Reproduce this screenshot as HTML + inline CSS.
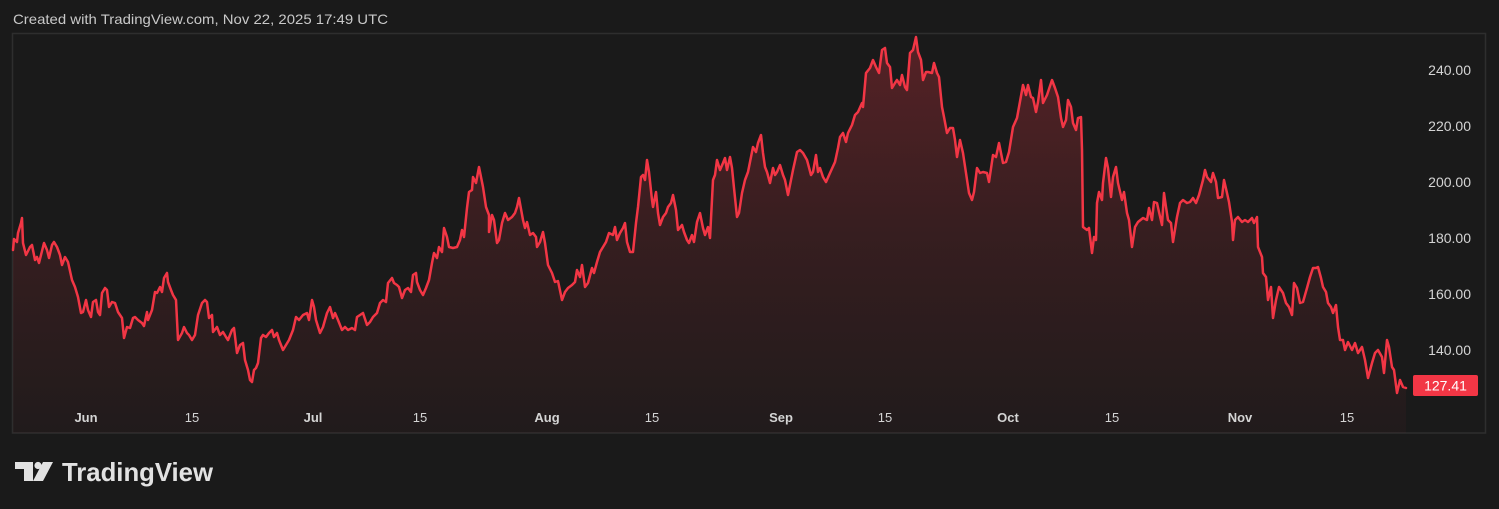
<!DOCTYPE html>
<html><head><meta charset="utf-8"><style>
html,body{margin:0;padding:0;background:#1a1a1a;}
svg{display:block;}
</style></head><body>
<svg width="1499" height="509" viewBox="0 0 1499 509" xmlns="http://www.w3.org/2000/svg">
<defs>
<linearGradient id="g" gradientUnits="userSpaceOnUse" x1="0" y1="37" x2="0" y2="433">
<stop offset="0" stop-color="#f23645" stop-opacity="0.28"/>
<stop offset="0.5" stop-color="#f23645" stop-opacity="0.13"/>
<stop offset="1" stop-color="#f23645" stop-opacity="0.03"/>
</linearGradient>
</defs>
<rect width="1499" height="509" fill="#1a1a1a"/>
<text x="13" y="24" font-family="Liberation Sans, sans-serif" font-size="14" fill="#c9c9c9" textLength="375" lengthAdjust="spacingAndGlyphs">Created with TradingView.com, Nov 22, 2025 17:49 UTC</text>
<rect x="12.5" y="33.5" width="1473" height="399.5" fill="none" stroke="#2e2e2e" stroke-width="1.5"/>
<g id="series">
<polygon fill="url(#g)" points="13,433 13,250 14,239 17,242 18,233 21,223 22,218 23,243 26,255 30,247 32,245 35,260 37,257 39,263 43,247 44,243 47,250 49,258 52,245 54,242 57,247 60,255 62,265 65,257 68,262 72,280 75,287 78,297 81,313 83,312 86,300 88,310 91,317 93,302 96,300 98,312 100,315 102,293 105,288 107,290 109,307 112,302 115,303 118,312 122,318 124,338 127,327 130,328 133,318 135,317 138,320 142,323 144,326 147,312 148,320 152,310 155,292 157,293 160,287 162,292 164,278 167,273 168,282 171,290 173,295 176,300 178,340 182,333 184,327 187,333 189,335 192,340 195,335 198,315 202,303 205,300 207,302 209,318 212,315 213,332 217,327 220,335 223,332 226,337 228,340 232,330 234,328 237,353 240,345 243,343 245,360 248,370 250,380 252,382 254,370 256,368 258,363 261,338 263,335 266,337 269,333 272,330 274,337 277,333 279,340 283,350 286,345 289,340 293,330 296,317 299,320 303,315 307,313 309,320 312,300 314,307 316,320 320,333 323,327 327,313 330,307 333,318 335,313 338,320 342,330 345,327 348,330 352,328 355,330 357,317 360,315 363,313 367,325 370,322 373,317 377,313 380,303 383,300 386,302 388,283 392,278 394,283 397,285 399,287 402,298 405,290 408,288 411,292 413,275 416,273 417,282 420,290 423,295 426,288 429,280 432,263 434,253 437,258 439,247 442,252 444,228 447,237 449,247 453,248 457,247 460,240 462,230 464,237 467,208 469,192 472,190 473,177 476,183 479,167 481,177 483,187 486,207 489,215 489,232 492,215 494,220 497,243 499,240 502,223 505,213 508,220 512,217 515,213 517,207 519,198 523,220 525,228 527,222 530,235 533,233 536,237 537,247 540,242 543,232 545,243 548,265 552,273 555,282 558,281 562,300 565,292 568,288 572,285 575,282 577,270 580,277 582,265 585,287 588,283 592,268 594,273 597,262 600,252 603,247 606,242 609,233 613,235 615,227 617,240 620,233 623,228 625,223 627,242 630,252 633,252 636,223 638,207 641,177 643,175 645,180 647,160 649,172 652,200 653,207 656,192 658,213 660,225 663,217 666,213 668,207 671,203 673,195 676,210 678,230 682,225 684,232 687,240 689,243 692,235 694,242 697,222 700,213 703,228 705,235 708,227 710,238 713,180 715,175 717,160 720,170 723,163 725,158 727,170 730,157 732,168 734,188 737,217 739,213 742,193 745,180 748,172 751,157 753,147 756,152 758,143 761,135 763,153 765,167 767,172 770,183 773,168 775,175 777,172 780,165 783,175 785,180 788,195 791,180 793,170 797,152 800,150 803,153 807,160 811,175 813,172 816,155 818,172 820,168 823,177 826,182 830,173 835,162 838,148 840,137 843,133 846,142 848,133 852,125 855,115 858,112 862,103 863,107 866,73 870,68 873,60 876,67 879,73 882,50 885,48 887,63 890,67 892,88 895,83 897,80 900,85 902,75 905,87 907,90 910,53 913,50 916,37 918,52 921,60 923,80 926,72 928,72 932,73 934,63 937,73 939,77 942,107 944,117 947,133 950,128 953,128 955,140 957,157 960,140 963,153 966,173 969,193 972,200 974,192 977,168 980,173 983,172 987,173 989,182 993,155 996,157 999,143 1003,163 1006,162 1009,152 1013,127 1017,118 1019,107 1023,85 1026,95 1028,85 1031,97 1033,98 1036,112 1038,102 1041,80 1043,103 1047,95 1052,80 1055,88 1058,97 1061,118 1063,127 1066,120 1068,100 1071,107 1073,123 1076,130 1078,118 1081,117 1082,150 1083,227 1087,230 1089,228 1092,253 1094,237 1096,240 1097,203 1099,192 1102,200 1103,183 1106,158 1108,168 1111,197 1113,177 1116,167 1118,183 1122,200 1124,192 1127,213 1129,220 1132,247 1135,227 1138,222 1143,218 1147,220 1149,208 1152,220 1154,202 1157,203 1159,212 1162,225 1164,193 1166,207 1168,220 1171,223 1173,242 1177,217 1180,203 1183,200 1187,203 1190,202 1193,198 1196,203 1199,195 1203,180 1205,170 1207,177 1211,182 1213,173 1216,182 1218,198 1222,197 1224,180 1227,193 1229,202 1232,222 1233,240 1235,220 1238,217 1242,222 1245,220 1248,222 1252,218 1254,223 1257,217 1258,247 1262,257 1263,273 1266,277 1268,300 1271,287 1273,318 1276,300 1279,287 1283,293 1286,303 1289,307 1292,315 1294,283 1297,288 1300,303 1303,302 1307,288 1310,277 1313,268 1316,268 1318,267 1321,278 1323,287 1326,292 1328,303 1331,307 1333,313 1336,305 1338,327 1340,340 1343,340 1345,350 1348,342 1352,350 1355,343 1358,353 1362,347 1365,360 1368,378 1372,363 1375,353 1378,350 1382,357 1384,373 1387,340 1389,347 1392,367 1394,370 1397,393 1400,380 1403,387 1406,388 1406,433"/>
<polyline fill="none" stroke="#f23645" stroke-width="2.5" stroke-linejoin="round" stroke-linecap="round" points="13,250 14,239 17,242 18,233 21,223 22,218 23,243 26,255 30,247 32,245 35,260 37,257 39,263 43,247 44,243 47,250 49,258 52,245 54,242 57,247 60,255 62,265 65,257 68,262 72,280 75,287 78,297 81,313 83,312 86,300 88,310 91,317 93,302 96,300 98,312 100,315 102,293 105,288 107,290 109,307 112,302 115,303 118,312 122,318 124,338 127,327 130,328 133,318 135,317 138,320 142,323 144,326 147,312 148,320 152,310 155,292 157,293 160,287 162,292 164,278 167,273 168,282 171,290 173,295 176,300 178,340 182,333 184,327 187,333 189,335 192,340 195,335 198,315 202,303 205,300 207,302 209,318 212,315 213,332 217,327 220,335 223,332 226,337 228,340 232,330 234,328 237,353 240,345 243,343 245,360 248,370 250,380 252,382 254,370 256,368 258,363 261,338 263,335 266,337 269,333 272,330 274,337 277,333 279,340 283,350 286,345 289,340 293,330 296,317 299,320 303,315 307,313 309,320 312,300 314,307 316,320 320,333 323,327 327,313 330,307 333,318 335,313 338,320 342,330 345,327 348,330 352,328 355,330 357,317 360,315 363,313 367,325 370,322 373,317 377,313 380,303 383,300 386,302 388,283 392,278 394,283 397,285 399,287 402,298 405,290 408,288 411,292 413,275 416,273 417,282 420,290 423,295 426,288 429,280 432,263 434,253 437,258 439,247 442,252 444,228 447,237 449,247 453,248 457,247 460,240 462,230 464,237 467,208 469,192 472,190 473,177 476,183 479,167 481,177 483,187 486,207 489,215 489,232 492,215 494,220 497,243 499,240 502,223 505,213 508,220 512,217 515,213 517,207 519,198 523,220 525,228 527,222 530,235 533,233 536,237 537,247 540,242 543,232 545,243 548,265 552,273 555,282 558,281 562,300 565,292 568,288 572,285 575,282 577,270 580,277 582,265 585,287 588,283 592,268 594,273 597,262 600,252 603,247 606,242 609,233 613,235 615,227 617,240 620,233 623,228 625,223 627,242 630,252 633,252 636,223 638,207 641,177 643,175 645,180 647,160 649,172 652,200 653,207 656,192 658,213 660,225 663,217 666,213 668,207 671,203 673,195 676,210 678,230 682,225 684,232 687,240 689,243 692,235 694,242 697,222 700,213 703,228 705,235 708,227 710,238 713,180 715,175 717,160 720,170 723,163 725,158 727,170 730,157 732,168 734,188 737,217 739,213 742,193 745,180 748,172 751,157 753,147 756,152 758,143 761,135 763,153 765,167 767,172 770,183 773,168 775,175 777,172 780,165 783,175 785,180 788,195 791,180 793,170 797,152 800,150 803,153 807,160 811,175 813,172 816,155 818,172 820,168 823,177 826,182 830,173 835,162 838,148 840,137 843,133 846,142 848,133 852,125 855,115 858,112 862,103 863,107 866,73 870,68 873,60 876,67 879,73 882,50 885,48 887,63 890,67 892,88 895,83 897,80 900,85 902,75 905,87 907,90 910,53 913,50 916,37 918,52 921,60 923,80 926,72 928,72 932,73 934,63 937,73 939,77 942,107 944,117 947,133 950,128 953,128 955,140 957,157 960,140 963,153 966,173 969,193 972,200 974,192 977,168 980,173 983,172 987,173 989,182 993,155 996,157 999,143 1003,163 1006,162 1009,152 1013,127 1017,118 1019,107 1023,85 1026,95 1028,85 1031,97 1033,98 1036,112 1038,102 1041,80 1043,103 1047,95 1052,80 1055,88 1058,97 1061,118 1063,127 1066,120 1068,100 1071,107 1073,123 1076,130 1078,118 1081,117 1082,150 1083,227 1087,230 1089,228 1092,253 1094,237 1096,240 1097,203 1099,192 1102,200 1103,183 1106,158 1108,168 1111,197 1113,177 1116,167 1118,183 1122,200 1124,192 1127,213 1129,220 1132,247 1135,227 1138,222 1143,218 1147,220 1149,208 1152,220 1154,202 1157,203 1159,212 1162,225 1164,193 1166,207 1168,220 1171,223 1173,242 1177,217 1180,203 1183,200 1187,203 1190,202 1193,198 1196,203 1199,195 1203,180 1205,170 1207,177 1211,182 1213,173 1216,182 1218,198 1222,197 1224,180 1227,193 1229,202 1232,222 1233,240 1235,220 1238,217 1242,222 1245,220 1248,222 1252,218 1254,223 1257,217 1258,247 1262,257 1263,273 1266,277 1268,300 1271,287 1273,318 1276,300 1279,287 1283,293 1286,303 1289,307 1292,315 1294,283 1297,288 1300,303 1303,302 1307,288 1310,277 1313,268 1316,268 1318,267 1321,278 1323,287 1326,292 1328,303 1331,307 1333,313 1336,305 1338,327 1340,340 1343,340 1345,350 1348,342 1352,350 1355,343 1358,353 1362,347 1365,360 1368,378 1372,363 1375,353 1378,350 1382,357 1384,373 1387,340 1389,347 1392,367 1394,370 1397,393 1400,380 1403,387 1406,388"/>
</g>
<g font-family="Liberation Sans, sans-serif" font-size="14" fill="#d4d4d4" text-anchor="end">
<text x="1471" y="75">240.00</text>
<text x="1471" y="131">220.00</text>
<text x="1471" y="187">200.00</text>
<text x="1471" y="243">180.00</text>
<text x="1471" y="299">160.00</text>
<text x="1471" y="355">140.00</text>
</g>
<rect x="1413" y="375" width="65" height="21" rx="2" fill="#f23645"/>
<text x="1445.5" y="390.5" font-family="Liberation Sans, sans-serif" font-size="14" fill="#ffffff" text-anchor="middle">127.41</text>
<g font-family="Liberation Sans, sans-serif" font-size="13" fill="#d4d4d4" text-anchor="middle">
<text x="86" y="422" font-weight="bold">Jun</text>
<text x="192" y="422">15</text>
<text x="313" y="422" font-weight="bold">Jul</text>
<text x="420" y="422">15</text>
<text x="547" y="422" font-weight="bold">Aug</text>
<text x="652" y="422">15</text>
<text x="781" y="422" font-weight="bold">Sep</text>
<text x="885" y="422">15</text>
<text x="1008" y="422" font-weight="bold">Oct</text>
<text x="1112" y="422">15</text>
<text x="1240" y="422" font-weight="bold">Nov</text>
<text x="1347" y="422">15</text>
</g>
<g fill="#e2e2e2">
<path d="M15,462 H33 V481 H24 V469 H15 Z"/>
<circle cx="38" cy="465.5" r="3.6"/>
<path d="M43,462 H53 L43,481 H33 Z"/>
</g>
<text x="62" y="481" font-family="Liberation Sans, sans-serif" font-size="26" font-weight="bold" fill="#e2e2e2" textLength="151" lengthAdjust="spacingAndGlyphs">TradingView</text>
</svg>
</body></html>
